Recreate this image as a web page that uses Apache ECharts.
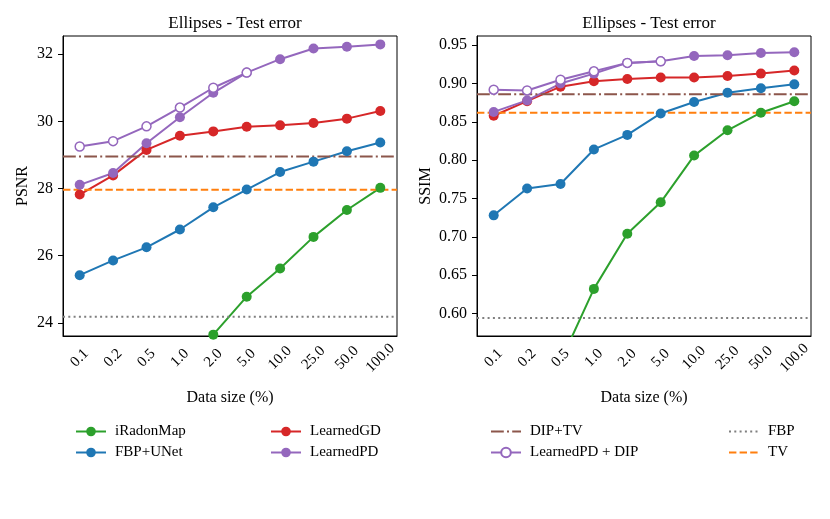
<!DOCTYPE html>
<html>
<head>
<meta charset="utf-8">
<script src="https://cdn.jsdelivr.net/npm/echarts@6/dist/echarts.min.js"></script>
<style>html,body{margin:0;padding:0;background:#fff}#c{width:830px;height:519px}</style>
</head>
<body>
<div id="c"></div>
<script>
const categories = ['0.1','0.2','0.5','1.0','2.0','5.0','10.0','25.0','50.0','100.0'];

// PSNR (left panel)
const psnrIRadonMap = [19.5, 20.6, 21.5, 22.6, 23.65, 24.78, 25.62, 26.56, 27.36, 28.02];
const psnrFBPUNet = [25.42, 25.86, 26.25, 26.78, 27.44, 27.97, 28.49, 28.80, 29.11, 29.37];
const psnrLearnedGD = [27.82, 28.39, 29.15, 29.57, 29.70, 29.84, 29.88, 29.95, 30.08, 30.31];
const psnrLearnedPD = [28.11, 28.46, 29.35, 30.12, 30.85, 31.45, 31.85, 32.17, 32.22, 32.29];
const psnrLearnedPDDIP = [29.25, 29.41, 29.85, 30.41, 31.00, 31.45];
const psnrDIPTV = 28.95;
const psnrTV = 27.96;
const psnrFBP = 24.18;
const psnrTicks = [24, 26, 28, 30, 32];

// SSIM (right panel)
const ssimIRadonMap = [0.42, 0.47, 0.537, 0.632, 0.704, 0.745, 0.806, 0.839, 0.862, 0.877];
const ssimFBPUNet = [0.728, 0.763, 0.769, 0.814, 0.833, 0.861, 0.876, 0.888, 0.894, 0.899];
const ssimLearnedGD = [0.858, 0.877, 0.896, 0.903, 0.906, 0.908, 0.908, 0.910, 0.913, 0.917];
const ssimLearnedPD = [0.863, 0.878, 0.900, 0.913, 0.927, 0.929, 0.936, 0.937, 0.940, 0.941];
const ssimLearnedPDDIP = [0.892, 0.891, 0.905, 0.916, 0.927, 0.929];
const ssimDIPTV = 0.886;
const ssimTV = 0.862;
const ssimFBP = 0.594;
const ssimTicks = [0.60, 0.65, 0.70, 0.75, 0.80, 0.85, 0.90, 0.95];

const FONT = 'Liberation Serif';
const C = {green:'#2ca02c', blue:'#1f77b4', red:'#d62728', purple:'#9467bd', brown:'#8c564b', gray:'#7f7f7f', orange:'#ff7f0e'};
const DASHDOT = [12.8, 3.2, 2, 3.2], DASHED = [7.4, 3.2], DOTTED = [2, 3.3];

function dataSeries(name, data, color, gi, hollow) {
  return {
    name, type: 'line', data, xAxisIndex: gi, yAxisIndex: gi,
    symbol: 'circle', symbolSize: hollow ? 9 : 10, clip: true,
    lineStyle: {color, width: 2},
    itemStyle: hollow ? {color: '#fff', borderColor: color, borderWidth: 1.5} : {color, borderWidth: 0},
    emphasis: {disabled: true}, animation: false
  };
}
function refSeries(name, value, color, dash, gi) {
  return {
    name, type: 'line', data: [[0, value], [1, value]], xAxisIndex: gi + 2, yAxisIndex: gi,
    symbol: 'circle', showSymbol: false, clip: true,
    lineStyle: {color, width: 2, type: dash}, itemStyle: {color, opacity: 0},
    emphasis: {disabled: true}, animation: false
  };
}
function panel(gi, d) {
  return [
    dataSeries('iRadonMap', d.ir, C.green, gi),
    dataSeries('FBP+UNet', d.fu, C.blue, gi),
    dataSeries('LearnedGD', d.gd, C.red, gi),
    dataSeries('LearnedPD', d.pd, C.purple, gi),
    refSeries('DIP+TV', d.diptv, C.brown, DASHDOT, gi),
    refSeries('TV', d.tv, C.orange, DASHED, gi),
    refSeries('FBP', d.fbp, C.gray, DOTTED, gi),
    dataSeries('LearnedPD + DIP', d.pddip, C.purple, gi, true)
  ];
}

const txt = {fontFamily: FONT, color: '#000'};
function xAxis(gi) {
  return {
    type: 'category', gridIndex: gi, data: categories, boundaryGap: true,
    name: 'Data size (%)', nameLocation: 'middle', nameGap: 54,
    nameTextStyle: {...txt, fontSize: 16},
    axisLine: {lineStyle: {color: '#000', width: 1}},
    axisTick: {alignWithLabel: true, length: 5, lineStyle: {color: '#000'}},
    axisLabel: {...txt, fontSize: 15, rotate: 45, align: 'center', verticalAlign: 'middle', margin: 22, interval: 0},
    splitLine: {show: false}
  };
}
function hiddenX(gi) {
  return {type: 'value', gridIndex: gi, min: 0, max: 1, show: false, splitLine: {show: false}};
}
function yAxis(gi, min, max, ticks, name, gap, fmt) {
  return {
    type: 'value', gridIndex: gi, min, max, name, nameLocation: 'middle', nameGap: gap,
    nameTextStyle: {...txt, fontSize: 16},
    axisLine: {show: true, lineStyle: {color: '#000', width: 1}},
    axisTick: {show: true, length: 5, lineStyle: {color: '#000'}, customValues: ticks},
    axisLabel: {...txt, fontSize: 16, margin: 10, customValues: ticks, formatter: fmt},
    splitLine: {show: false}
  };
}
const legendBase = {orient: 'vertical', itemWidth: 30, itemHeight: 12, itemGap: 6,
  textStyle: {...txt, fontSize: 15, padding: [0, 0, 0, 4]}, selectedMode: false, padding: 0};

const chart = echarts.init(document.getElementById('c'), null, {renderer: 'canvas'});
chart.setOption({
  backgroundColor: '#fff',
  animation: false,
  title: [
    {text: 'Ellipses - Test error', left: 230, top: 10, textAlign: 'center', textStyle: {...txt, fontSize: 17, fontWeight: 'normal'}},
    {text: 'Ellipses - Test error', left: 644, top: 10, textAlign: 'center', textStyle: {...txt, fontSize: 17, fontWeight: 'normal'}}
  ],
  grid: [
    {left: 63, top: 36, width: 334, height: 300, show: true, borderColor: '#000', borderWidth: 1, backgroundColor: 'transparent'},
    {left: 477, top: 36, width: 334, height: 300, show: true, borderColor: '#000', borderWidth: 1, backgroundColor: 'transparent'}
  ],
  xAxis: [xAxis(0), xAxis(1), hiddenX(0), hiddenX(1)],
  yAxis: [
    yAxis(0, 23.61, 32.54, psnrTicks, 'PSNR', 32, v => String(v)),
    yAxis(1, 0.5705, 0.9621, ssimTicks, 'SSIM', 43, v => v.toFixed(2))
  ],
  legend: [
    {...legendBase, left: 75, top: 424, data: ['iRadonMap', 'FBP+UNet']},
    {...legendBase, left: 270, top: 424, data: ['LearnedGD', 'LearnedPD']},
    {...legendBase, left: 490, top: 424, data: ['DIP+TV', 'LearnedPD + DIP']},
    {...legendBase, left: 728, top: 424, data: ['FBP', 'TV']}
  ],
  series: [
    ...panel(0, {ir: psnrIRadonMap, fu: psnrFBPUNet, gd: psnrLearnedGD, pd: psnrLearnedPD, pddip: psnrLearnedPDDIP, diptv: psnrDIPTV, tv: psnrTV, fbp: psnrFBP}),
    ...panel(1, {ir: ssimIRadonMap, fu: ssimFBPUNet, gd: ssimLearnedGD, pd: ssimLearnedPD, pddip: ssimLearnedPDDIP, diptv: ssimDIPTV, tv: ssimTV, fbp: ssimFBP})
  ]
});
</script>
</body>
</html>
